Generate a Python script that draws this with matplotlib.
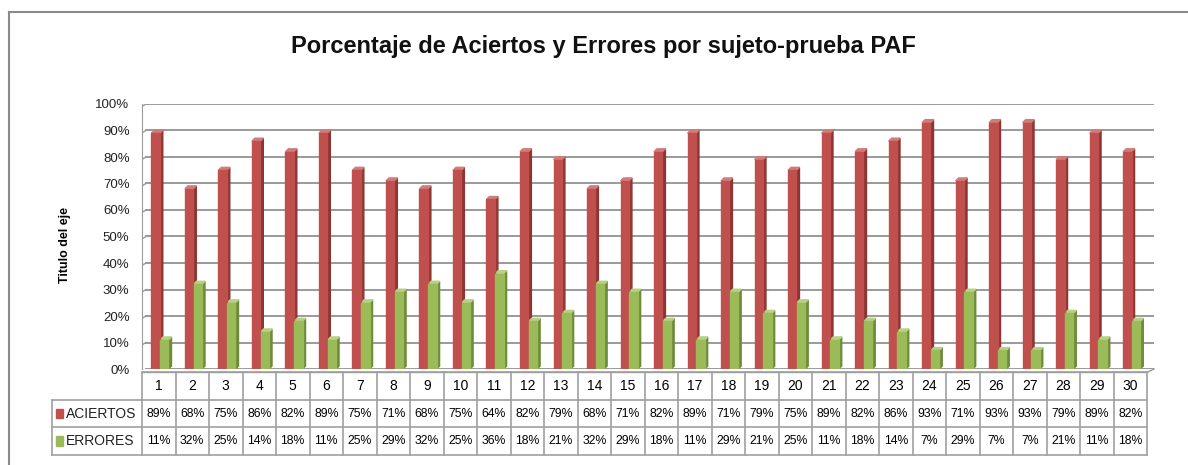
import matplotlib
matplotlib.use("Agg")
import matplotlib.pyplot as plt
from matplotlib.patches import Rectangle, Polygon
from matplotlib.lines import Line2D

# --- Data -----------------------------------------------------------
sujetos = [str(i) for i in range(1, 31)]
aciertos = [89, 68, 75, 86, 82, 89, 75, 71, 68, 75, 64, 82, 79, 68, 71,
            82, 89, 71, 79, 75, 89, 82, 86, 93, 71, 93, 93, 79, 89, 82]
errores = [11, 32, 25, 14, 18, 11, 25, 29, 32, 25, 36, 18, 21, 32, 29,
           18, 11, 29, 21, 25, 11, 18, 14, 7, 29, 7, 7, 21, 11, 18]
series_names = ["ACIERTOS", "ERRORES"]
y_ticks = list(range(0, 101, 10))

# --- Style ----------------------------------------------------------
RED, RED_SIDE, RED_TOP = "#C0504D", "#8C3532", "#D27B78"
GREEN, GREEN_SIDE, GREEN_TOP = "#9BBB59", "#6E8A3A", "#B8D084"
GRID = "#9A9A9A"
FONT = ["Liberation Sans", "DejaVu Sans"]

W_PX, H_PX = 1188, 465
fig = plt.figure(figsize=(W_PX / 100, H_PX / 100), dpi=100)


def fx(px):
    return px / W_PX


def fy(py):
    return 1 - py / H_PX


# outer chart frame
fig.add_artist(Line2D([fx(9), fx(9)], [fy(12), 0], color="#8A8A8A", lw=1.5))
fig.add_artist(Line2D([fx(9), 1], [fy(12), fy(12)], color="#8A8A8A", lw=1.5))

fig.text(fx(603), fy(47), "Porcentaje de Aciertos y Errores por sujeto-prueba PAF",
         ha="center", va="center", fontsize=17, fontweight="bold",
         family=FONT, color="#111111")

# --- Bar area -------------------------------------------------------
L, R = 142, 1154
ax = fig.add_axes([fx(L), fy(369), fx(R) - fx(L), fy(104) - fy(369)])
ax.set_xlim(-0.5, 29.7)
ax.set_ylim(0, 100)
for s in ["top", "right", "bottom"]:
    ax.spines[s].set_visible(False)
ax.spines["left"].set_color(GRID)
ax.set_xticks([])
ax.set_yticks(y_ticks)
ax.set_yticklabels([f"{v}%" for v in y_ticks], family=FONT, fontsize=9.5,
                   color="#222222")
ax.tick_params(axis="y", length=0, pad=9)

for v in y_ticks:
    ax.plot([-0.38, 29.7], [v, v], color=GRID, lw=1.4, zorder=0)
    ax.plot([-0.5, -0.38], [v - 0.9, v], color=GRID, lw=1.0, zorder=0)
ax.plot([29.5, 29.7], [-1.2, 0], color=GRID, lw=1.0, clip_on=False)
ax.plot([-0.5, 29.5], [-1.2, -1.2], color=GRID, lw=1.0, clip_on=False)

bw = 0.25
dx, dy = 0.09, 1.1


def bar3d(x0, h, front, side, top):
    ax.add_patch(Polygon([(x0 + bw, 0), (x0 + bw + dx, dy), (x0 + bw + dx, h + dy),
                          (x0 + bw, h)], closed=True, color=side, zorder=2))
    ax.add_patch(Polygon([(x0, h), (x0 + dx, h + dy), (x0 + bw + dx, h + dy),
                          (x0 + bw, h)], closed=True, color=top, zorder=2))
    ax.add_patch(Rectangle((x0, 0), bw, h, color=front, zorder=3))


for i in range(len(sujetos)):
    bar3d(i - 0.22, aciertos[i], RED, RED_SIDE, RED_TOP)
    bar3d(i + 0.04, errores[i], GREEN, GREEN_SIDE, GREEN_TOP)

fig.text(fx(65), fy(245), "Titulo del eje", rotation=90, ha="center", va="center",
         fontsize=9, fontweight="bold", family=FONT)

# --- Data table -----------------------------------------------------
tab = fig.add_axes([fx(L), fy(455), fx(R) - fx(L), fy(372) - fy(455)])
tab.set_xlim(-0.5, 29.7)
tab.set_ylim(0, 3)
tab.axis("off")
lc = "#A0A0A0"
xleft = -0.5 - (L - 52) / 33.5
n = len(sujetos)
# horizontal lines
tab.plot([-0.5, n - 0.5], [3, 3], color=lc, lw=1.2, clip_on=False)
for yy in [2, 1, 0]:
    tab.plot([xleft, n - 0.5], [yy, yy], color=lc, lw=1.2, clip_on=False)
# vertical lines
tab.plot([xleft, xleft], [0, 2], color=lc, lw=1.2, clip_on=False)
for k in range(n + 1):
    tab.plot([k - 0.5, k - 0.5], [0, 3], color=lc, lw=1.2, clip_on=False)

for i, lab in enumerate(sujetos):
    tab.text(i, 2.5, lab, ha="center", va="center", family=FONT, fontsize=10)
    tab.text(i, 1.5, f"{aciertos[i]}%", ha="center", va="center",
             family=FONT, fontsize=8.8)
    tab.text(i, 0.5, f"{errores[i]}%", ha="center", va="center",
             family=FONT, fontsize=8.8)

for row, (name, col) in enumerate(zip(series_names, [RED, GREEN])):
    yc = 1.5 - row
    tab.add_patch(Rectangle((xleft + 0.12, yc - 0.17), 0.22, 0.34, color=col,
                            clip_on=False))
    tab.text(xleft + 0.42, yc, name, ha="left", va="center", family=FONT,
             fontsize=10, color="#222222")

fig.savefig("out.png", dpi=100)
